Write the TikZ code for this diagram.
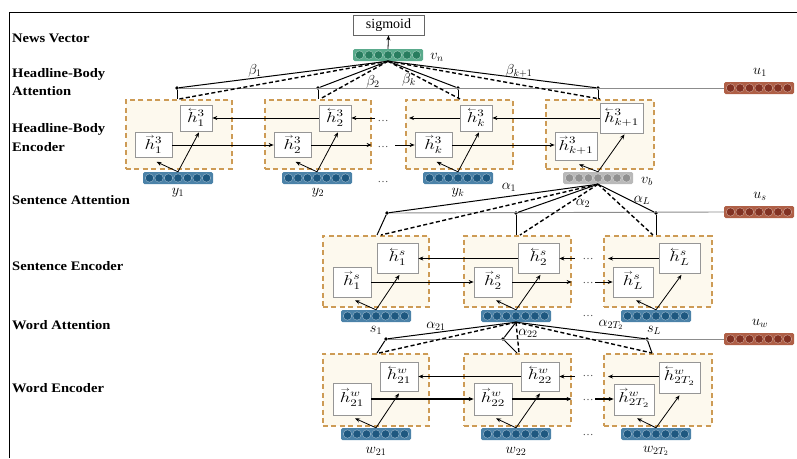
\documentclass[tikz,border=0pt]{standalone}
\usepackage{fontspec}
\setmainfont{Liberation Serif}
\newfontfamily\lblfont{Liberation Serif}[FakeStretch=1.12]
\usepackage{amsmath}
\usepackage{graphicx}
\usetikzlibrary{arrows.meta,calc}

\definecolor{encdash}{RGB}{205,155,85}
\definecolor{encfill}{RGB}{253,249,238}
\definecolor{innerdraw}{RGB}{150,150,150}
\definecolor{blueR}{RGB}{75,130,168}
\definecolor{blueC}{RGB}{30,88,128}
\definecolor{greenR}{RGB}{90,170,140}
\definecolor{greenC}{RGB}{40,125,95}
\definecolor{grayR}{RGB}{185,185,185}
\definecolor{grayC}{RGB}{145,145,145}
\definecolor{redR}{RGB}{175,95,70}
\definecolor{redC}{RGB}{130,50,35}

\newcommand\harr[1]{\mathord{\rlap{\kern0.5pt\smash{\raisebox{0.76em}{\scalebox{0.9}{$\scriptscriptstyle#1$}}}}h}}
\newcommand\hfw[2]{\scalebox{1.3}[1]{$\harr{\rightarrow}^{#1}_{#2}$}}
\newcommand\hbw[2]{\scalebox{1.3}[1]{$\harr{\leftarrow}^{#1}_{#2}$}}

\tikzset{
  encbox/.style={draw=encdash, fill=encfill, dash pattern=on 5pt off 3.5pt, line width=1.6pt, anchor=north west, inner sep=0},
  hcell/.style={draw=innerdraw, fill=white, line width=0.7pt, inner sep=0, font=\fontsize{14}{16}\selectfont},
  attline/.style={draw=black!45, line width=0.9pt},
  solidatt/.style={line width=1pt},
  dashatt/.style={line width=1.4pt, dash pattern=on 4pt off 2.5pt},
  arr/.style={-{Stealth[length=5pt,width=4pt]}, line width=0.8pt},
  jdot/.style={circle, fill=black, inner sep=0, minimum size=3.8pt},
  lbl/.style={anchor=west, font=\lblfont\bfseries\fontsize{13}{15}\selectfont, inner sep=0},
  mlab/.style={font=\fontsize{14}{16}\selectfont, inner sep=0},
  vrect/.style={rounded corners=1.5pt, minimum width=70pt, minimum height=12pt, inner sep=0},
  dotsl/.style={font=\fontsize{11}{12}\selectfont, inner sep=0, text=black!70},
}

\newcommand\vbar[5]{%
  \node[vrect, fill=#4] (#1) at (#2,#3) {};
  \foreach \k in {-3,...,3}{\fill[#5, draw=white!60!#4, line width=0.3pt] ($(#1.center)+(\k*9.5,0)$) circle (4.2pt);}
}

\begin{document}
\begin{tikzpicture}[x=1pt,y=-1pt]
\useasboundingbox (0,0) rectangle (797,458);
\draw[line width=0.9pt] (9,458) -- (9,12) -- (797,12);

% ---------- left labels ----------
\node[lbl] (L1) at (12,38) {News Vector};
\node[lbl] (L2) at (12,74) {Headline-Body};
\node[lbl] (L3) at (12,91) {Attention};
\node[lbl] (L4) at (12,129) {Headline-Body};
\node[lbl] (L5) at (12,147) {Encoder};
\node[lbl] (L6) at (12,200) {Sentence Attention};
\node[lbl] (L7) at (12,266) {Sentence Encoder};
\node[lbl] (L8) at (12,325) {Word Attention};
\node[lbl] (L9) at (12,388) {Word Encoder};

% ---------- top ----------
\node[draw=black!60, line width=0.7pt, fill=white, minimum width=71pt, minimum height=20pt, inner sep=0, font=\fontsize{14}{16}\selectfont] (sig) at (388.5,25) {sigmoid};
\vbar{vn}{388}{55}{greenR}{greenC}
\draw[arr] (vn.north) -- (sig.south);
\node[mlab] (vnl) at (437,57) {$v_n$};
\vbar{u1}{759}{88}{redR}{redC}
\node[mlab] (u1l) at (760,72) {$u_1$};

% ---------- headline-body encoder ----------
\node[encbox, minimum width=106pt, minimum height=69pt] (hbo1) at (125,99) {};
\node[encbox, minimum width=106pt, minimum height=69pt] (hbo2) at (264,99) {};
\node[encbox, minimum width=107pt, minimum height=69pt] (hbo3) at (405,99) {};
\node[encbox, minimum width=108pt, minimum height=69pt] (hbo4) at (545,99) {};

\node[hcell, minimum width=32pt, minimum height=26pt] (hbb1) at (196,118) {\hbw{3}{1}};
\node[hcell, minimum width=37pt, minimum height=25pt] (hbf1) at (153.5,145) {\hfw{3}{1}};
\node[hcell, minimum width=32pt, minimum height=26pt] (hbb2) at (335,118) {\hbw{3}{2}};
\node[hcell, minimum width=37pt, minimum height=25pt] (hbf2) at (292.5,145) {\hfw{3}{2}};
\node[hcell, minimum width=32pt, minimum height=26pt] (hbb3) at (476,118) {\hbw{3}{k}};
\node[hcell, minimum width=37pt, minimum height=25pt] (hbf3) at (433.5,145) {\hfw{3}{k}};
\node[hcell, minimum width=43pt, minimum height=30pt] (hbb4) at (621.5,118) {\hbw{3}{k+1}};
\node[hcell, minimum width=42pt, minimum height=28pt] (hbf4) at (576,146) {\hfw{3}{k+1}};

\vbar{y1}{178}{178}{blueR}{blueC}
\vbar{y2}{317}{178}{blueR}{blueC}
\vbar{yk}{458}{178}{blueR}{blueC}
\vbar{vb}{598}{178}{grayR}{grayC}
\node[mlab] (y1l) at (178,193) {$y_1$};
\node[mlab] (y2l) at (318,193) {$y_2$};
\node[mlab] (ykl) at (458,193) {$y_k$};
\node[mlab] (vbl) at (647,181) {$v_b$};

\node[dotsl] (hd1) at (383,121) {\dots};
\node[dotsl] (hd2) at (383,147) {\dots};
\node[dotsl] (hd3) at (383,182) {\dots};

\coordinate (hr2b) at ($(hbo2.east |- hbb2.east)+(3,0)$);
\coordinate (hl3b) at ($(hbo3.west |- hbb3.west)+(4,0)$);
\coordinate (hr2f) at (hbo2.east |- hbf2.east);
\coordinate (hl3f) at ($(hbo3.west |- hbf3.west)+(-10,0)$);
\draw[arr] (hbb2.west) -- (hbb1.east);
\draw[arr] (hr2b) -- (hbb2.east);
\draw[arr] (hbb3.west) -- (hl3b);
\draw[arr] (hbb4.west |- hbb3.east) -- (hbb3.east);
\draw[arr] (hbf1.east) -- (hbf2.west);
\draw[arr] (hbf2.east) -- (hr2f);
\draw[arr] (hl3f) -- (hbf3.west);
\draw[arr] (hbf3.east) -- (hbf3.east -| hbf4.west);

\foreach \v/\f/\b in {y1/hbf1/hbb1, y2/hbf2/hbb2, yk/hbf3/hbb3, vb/hbf4/hbb4}{
  \draw[arr] (\v.north) -- ($(\f.south)+(3,4)$);
  \draw[arr] (\v.north) -- ($(\b.south)+(3,1)$);
}

% ---------- headline-body attention ----------
\node[jdot] (d11) at (177,88) {};
\node[jdot] (d12) at (318,88) {};
\node[jdot] (d13) at (458,88) {};
\node[jdot] (d14) at (598,88) {};
\draw[attline] (d11) -- (u1.west);
\foreach \d/\o in {d11/hbo1, d12/hbo2, d13/hbo3, d14/hbo4}{
  \draw[solidatt] (vn.south) -- (\d);
  \draw[solidatt] (\d) -- (\d |- \o.north);
  \draw[dashatt] (vn.south) -- ($(\d |- \o.north)+(2,0)$);
}
\node[mlab] (beta1) at (255,71) {$\beta_1$};
\node[mlab] (beta2) at (373,82) {$\beta_2$};
\node[mlab] (betak) at (409,80) {$\beta_k$};
\node[mlab] (betak1) at (519,71) {$\beta_{k+1}$};

% ---------- sentence encoder ----------
\node[encbox, minimum width=106pt, minimum height=71pt] (hso1) at (322,235) {};
\node[encbox, minimum width=107pt, minimum height=71pt] (hso2) at (463,235) {};
\node[encbox, minimum width=108pt, minimum height=71pt] (hso3) at (603,235) {};

\node[hcell, minimum width=41pt, minimum height=30pt] (hsb1) at (397.5,258.5) {\hbw{s}{1}};
\node[hcell, minimum width=38pt, minimum height=30pt] (hsf1) at (352,282) {\hfw{s}{1}};
\node[hcell, minimum width=41pt, minimum height=30pt] (hsb2) at (538.5,258.5) {\hbw{s}{2}};
\node[hcell, minimum width=38pt, minimum height=30pt] (hsf2) at (493,282) {\hfw{s}{2}};
\node[hcell, minimum width=41pt, minimum height=30pt] (hsb3) at (679.5,258.5) {\hbw{s}{L}};
\node[hcell, minimum width=40pt, minimum height=30pt] (hsf3) at (633,282) {\hfw{s}{L}};

\vbar{s1}{376}{316}{blueR}{blueC}
\vbar{s2}{516}{316}{blueR}{blueC}
\vbar{sL}{656}{316}{blueR}{blueC}

\node[dotsl] (sd1) at (588,259) {\dots};
\node[dotsl] (sd2) at (588,283) {\dots};
\node[dotsl] (sd3) at (588,316) {\dots};

\coordinate (sr2b) at ($(hso2.east |- hsb2.east)+(3,0)$);
\coordinate (sl3b) at ($(hso3.west |- hsb3.west)+(5,0)$);
\coordinate (sr2f) at (hso2.east |- hsf2.east);
\coordinate (sl3f) at ($(hso3.west |- hsf3.west)+(-8,0)$);
\draw[arr] (hsb2.west) -- (hsb1.east);
\draw[arr] (sr2b) -- (hsb2.east);
\draw[arr] (hsb3.west) -- (sl3b);
\draw[arr] (hsf1.east) -- (hsf2.west);
\draw[arr] (hsf2.east) -- (sr2f);
\draw[arr] (sl3f) -- (hsf3.west);

\foreach \v/\f/\b in {s1/hsf1/hsb1, s2/hsf2/hsb2, sL/hsf3/hsb3}{
  \draw[arr] (\v.north) -- ($(\f.south)+(3,3)$);
  \draw[arr] (\v.north) -- ($(\b.south)+(2,1)$);
}

% ---------- sentence attention ----------
\vbar{us}{759}{212}{redR}{redC}
\node[mlab] (usl) at (760,196) {$u_s$};
\node[jdot] (d21) at (387,213) {};
\node[jdot] (d22) at (516,213) {};
\node[jdot] (d23) at (656,213) {};
\draw[attline] (d21) -- (us.west);
\draw[solidatt] (vb.south) -- (d21);
\draw[solidatt] (d21) -- ($(hso1.north west)+(55,0)$);
\draw[dashatt] (vb.south) -- ($(hso1.north west)+(59,0)$);
\draw[solidatt] (vb.south) -- (d22);
\draw[solidatt] (d22) -- (d22 |- hso2.north);
\draw[dashatt] (vb.south) -- ($(d22 |- hso2.north)+(4,0)$);
\draw[solidatt] (vb.south) -- (d23);
\draw[solidatt] (d23) -- (d23 |- hso3.north);
\draw[dashatt] (vb.south) -- ($(d23 |- hso3.north)+(-3,0)$);
\node[mlab] (al1) at (509,187) {$\alpha_1$};
\node[mlab] (al2) at (583,203) {$\alpha_2$};
\node[mlab] (alL) at (642,200) {$\alpha_L$};

% ---------- word encoder ----------
\node[encbox, minimum width=106pt, minimum height=72pt] (hwo1) at (322,353) {};
\node[encbox, minimum width=107pt, minimum height=72pt] (hwo2) at (463,353) {};
\node[encbox, minimum width=108pt, minimum height=72pt] (hwo3) at (603,353) {};

\node[hcell, minimum width=38pt, minimum height=29pt] (hwb1) at (399,376.5) {\hbw{w}{21}};
\node[hcell, minimum width=38pt, minimum height=32pt] (hwf1) at (352,399) {\hfw{w}{21}};
\node[hcell, minimum width=38pt, minimum height=29pt] (hwb2) at (540,376.5) {\hbw{w}{22}};
\node[hcell, minimum width=38pt, minimum height=32pt] (hwf2) at (493,399) {\hfw{w}{22}};
\node[hcell, minimum width=41pt, minimum height=31pt] (hwb3) at (679.5,377.5) {\hbw{w}{2T_2}};
\node[hcell, minimum width=40pt, minimum height=31pt] (hwf3) at (634,399.5) {\hfw{w}{2T_2}};

\vbar{w21}{376}{434}{blueR}{blueC}
\vbar{w22}{516}{434}{blueR}{blueC}
\vbar{w2T}{656}{434}{blueR}{blueC}
\node[mlab] (w21l) at (376,451) {$w_{21}$};
\node[mlab] (w22l) at (516,451) {$w_{22}$};
\node[mlab] (w2Tl) at (656,451) {$w_{2T_2}$};

\node[dotsl] (wd1) at (588,376) {\dots};
\node[dotsl] (wd2) at (588,400) {\dots};
\node[dotsl] (wd3) at (588,435) {\dots};

\coordinate (wr2b) at ($(hwo2.east |- hwb2.east)+(3,0)$);
\coordinate (wl3b) at ($(hwo3.west |- hwb2.east)+(5,0)$);
\coordinate (wr2f) at (hwo2.east |- hwf2.east);
\coordinate (wl3f) at ($(hwo3.west |- hwf2.east)+(-8,0)$);
\draw[arr] (hwb2.west) -- (hwb1.east);
\draw[arr] (wr2b) -- (hwb2.east);
\draw[arr] (hwb3.west |- hwb2.east) -- (wl3b);
\draw[arr, line width=1.3pt] (hwf1.east) -- (hwf2.west);
\draw[arr, line width=1.3pt] (hwf2.east) -- (wr2f);
\draw[arr, line width=1.3pt] (wl3f) -- (hwf3.west |- hwf2.east);

\foreach \v/\f/\b in {w21/hwf1/hwb1, w22/hwf2/hwb2, w2T/hwf3/hwb3}{
  \draw[arr] (\v.north) -- ($(\f.south)+(3,3)$);
  \draw[arr] (\v.north) -- ($(\b.south)+(0,2)$);
}

% ---------- word attention ----------
\vbar{uw}{759}{339}{redR}{redC}
\node[mlab] (uwl) at (760,323) {$u_w$};
\node[jdot] (d31) at (386,339) {};
\node[jdot] (d32) at (503,339) {};
\node[jdot] (d33) at (647,339) {};
\draw[attline] (d31) -- (uw.west);
\draw[solidatt] (s2.south) -- (d31);
\draw[solidatt] (d31) -- ($(hwo1.north west)+(55,0)$);
\draw[dashatt] (s2.south) -- ($(hwo1.north west)+(57,0)$);
\draw[solidatt] (s2.south) -- (d32);
\draw[solidatt] (d32) -- ($(hwo2.north west)+(54,0)$);
\draw[dashatt] (s2.south) -- ($(hwo2.north west)+(56,0)$);
\draw[solidatt] (s2.south) -- (d33);
\draw[solidatt] (d33) -- ($(hwo3.north west)+(49,0)$);
\draw[dashatt] (s2.south) -- ($(hwo3.north west)+(49,0)$);
\node[mlab] (s1l) at (376,330) {$s_1$};
\node[mlab] (sLl) at (654,330) {$s_L$};
\node[mlab] (a21) at (436,326) {$\alpha_{21}$};
\node[mlab] (a22) at (528,333) {$\alpha_{22}$};
\node[mlab] (a2T) at (611,325) {$\alpha_{2T_2}$};
\end{tikzpicture}
\end{document}
